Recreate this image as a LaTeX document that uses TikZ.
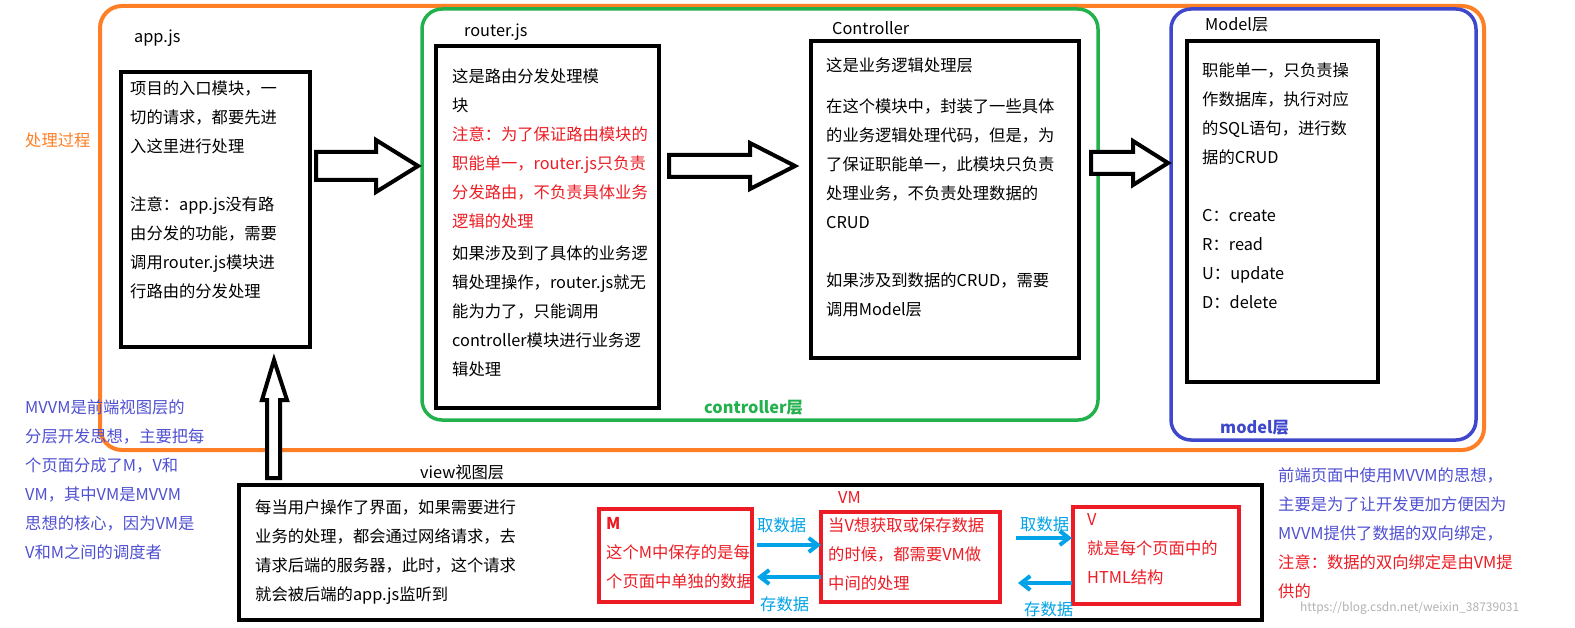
\documentclass[tikz,border=0pt]{standalone}
\usepackage{fontspec}
\setmainfont{Noto Sans CJK SC}
\usetikzlibrary{arrows.meta}
\definecolor{org}{RGB}{255,127,39}
\definecolor{grn}{RGB}{34,177,76}
\definecolor{blu}{RGB}{63,72,204}
\definecolor{rd}{RGB}{237,28,36}
\definecolor{cy}{RGB}{0,162,232}
\definecolor{tb}{RGB}{80,80,210}
\begin{document}
\begin{tikzpicture}[x=1pt,y=-1pt,
 txt/.style={anchor=north west,inner sep=0pt,align=left,font=\fontsize{16.3}{29}\selectfont},
 lbl/.style={anchor=west,inner sep=0pt,font=\fontsize{16.3}{19}\selectfont},
 blk/.style={draw=black,line width=4pt},
 rbox/.style={draw=rd,line width=4pt},
 hol/.style={draw=black,line width=4pt,fill=white},
 cyarr/.style={draw=cy,line width=4pt,-{Straight Barb[length=9pt,width=14pt,line width=4pt]}}]
\useasboundingbox[fill=white] (0,0) rectangle (1575,628);
% big frames
\draw[org,line width=4pt,rounded corners=22pt] (100,6) rectangle (1484,450);
\draw[grn,line width=3.5pt,rounded corners=20pt] (422,9) rectangle (1098,420);
\draw[blu,line width=3.5pt,rounded corners=20pt] (1171,9) rectangle (1476,440);
% app.js
\node[lbl] (lapp) at (134,38) {app.js};
\draw[blk] (121,72) rectangle (310,347);
\node[txt] (tapp) at (130,81) {项目的入口模块，一\\切的请求，都要先进\\入这里进行处理\\[29pt]注意：app.js没有路\\由分发的功能，需要\\调用router.js模块进\\行路由的分发处理};
% router
\node[lbl] (lrt) at (464,32) {router.js};
\draw[blk] (436,46) rectangle (659,408);
\node[txt] (trt) at (452,69) {这是路由分发处理模\\块\\\textcolor{rd}{注意：为了保证路由模块的}\\\textcolor{rd}{职能单一，router.js只负责}\\\textcolor{rd}{分发路由，不负责具体业务}\\\textcolor{rd}{逻辑的处理}\\[3pt]如果涉及到了具体的业务逻\\辑处理操作，router.js就无\\能为力了，只能调用\\controller模块进行业务逻\\辑处理};
% controller
\node[lbl] (lct) at (832,28) {Controller};
\draw[blk] (811,41) rectangle (1079,358);
\node[txt] (tct) at (826,58) {这是业务逻辑处理层\\[12pt]在这个模块中，封装了一些具体\\的业务逻辑处理代码，但是，为\\了保证职能单一，此模块只负责\\处理业务，不负责处理数据的\\CRUD\\[29pt]如果涉及到数据的CRUD，需要\\调用Model层};
% model
\node[lbl] (lmd) at (1205,25) {Model层};
\draw[blk] (1187,41) rectangle (1378,382);
\node[txt] (tmd) at (1202,63) {职能单一，只负责操\\作数据库，执行对应\\的SQL语句，进行数\\据的CRUD\\[29pt]C：create\\R：read\\U：update\\D：delete};
% hollow arrows
\draw[hol] (316,152) -- (376,152) -- (376,140) -- (418,166) -- (376,192) -- (376,180) -- (316,180) -- cycle;
\draw[hol] (669,155) -- (750,155) -- (750,143) -- (795,166) -- (750,189) -- (750,177) -- (669,177) -- cycle;
\draw[hol] (1091,152) -- (1133,152) -- (1133,141) -- (1168,163) -- (1133,185) -- (1133,174) -- (1091,174) -- cycle;
\draw[hol] (267,478) -- (267,400) -- (262,400) -- (274,360) -- (287,400) -- (280,400) -- (280,478) -- cycle;
% labels
\node[lbl,text=org] (lproc) at (25,140) {处理过程};
\node[lbl,text=grn,font=\fontsize{16.3}{19}\bfseries\selectfont] (lcl) at (704,408) {controller层};
\node[lbl,text=blu,font=\fontsize{16.3}{19}\bfseries\selectfont] (lml) at (1220,428) {model层};
\node[txt,text=tb] (tmv) at (25,400) {MVVM是前端视图层的\\分层开发思想，主要把每\\个页面分成了M，V和\\VM，其中VM是MVVM\\思想的核心，因为VM是\\V和M之间的调度者};
\node[txt,text=tb] (tr) at (1278,468) {前端页面中使用MVVM的思想，\\主要是为了让开发更加方便因为\\MVVM提供了数据的双向绑定，\\\textcolor{rd}{注意：数据的双向绑定是由VM提}\\\textcolor{rd}{供的}};
% view
\node[lbl] (lvw) at (420,472) {view视图层};
\draw[blk] (239,485) rectangle (1262,620);
\node[txt] (tvw) at (255,500) {每当用户操作了界面，如果需要进行\\业务的处理，都会通过网络请求，去\\请求后端的服务器，此时，这个请求\\就会被后端的app.js监听到};
\draw[rbox] (599,509) rectangle (752,602);
\node[txt,text=rd] (tm) at (606,517) {\textbf{M}\\这个M中保存的是每\\个页面中单独的数据};
\node[lbl,text=rd] (lvm) at (838,498) {VM};
\draw[rbox] (821,512) rectangle (1000,602);
\node[txt,text=rd] (tvm) at (828,518) {当V想获取或保存数据\\的时候，都需要VM做\\中间的处理};
\draw[rbox] (1073,507) rectangle (1239,604);
\node[txt,text=rd] (tv) at (1087,513) {V\\就是每个页面中的\\HTML结构};
% cyan arrows
\draw[cyarr] (757,545) -- (821,545);
\draw[cyarr] (821,577) -- (757,577);
\draw[cyarr] (1016,538) -- (1072,538);
\draw[cyarr] (1072,583) -- (1018,583);
\node[lbl,text=cy] (q1) at (757,525) {取数据};
\node[lbl,text=cy] (c1) at (760,604) {存数据};
\node[lbl,text=cy] (q2) at (1020,524) {取数据};
\node[lbl,text=cy] (c2) at (1024,609) {存数据};
\node[lbl,text=gray!60,font=\fontsize{12}{14}\selectfont] (wm) at (1300,608) {https://blog.csdn.net/weixin\_38739031};
\end{tikzpicture}
\end{document}
